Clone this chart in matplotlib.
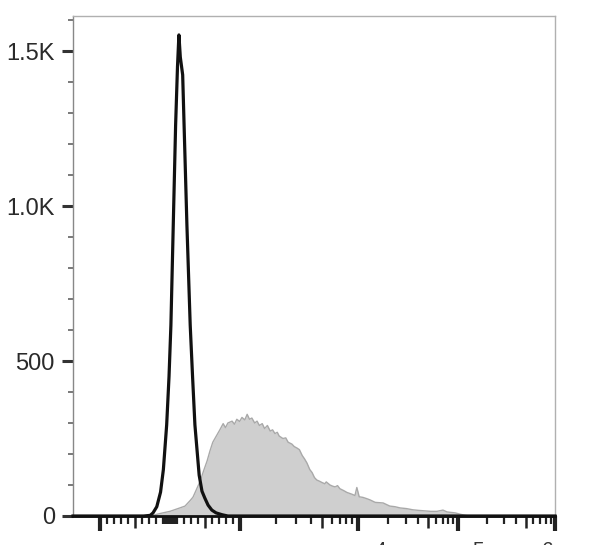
# Flow cytometry overlay histogram (isotype vs stained)

# Import Libraries
import numpy as np
import matplotlib.pyplot as plt
from matplotlib.ticker import FixedLocator, NullFormatter

plt.rcParams['font.family'] = ['Liberation Sans', 'DejaVu Sans']

# Data (x in display channels 0-1024, y in events)
isotype_ch = [0, 150, 164, 170, 178, 186, 192, 199, 204, 208, 213, 218, 222, 225,
              228, 233, 236, 242, 249, 254, 259, 268, 274, 280, 287, 295, 304,
              317, 329, 1024]
isotype_count = [0, 0, 2, 10, 30, 77, 150, 294, 450, 616, 939, 1261, 1450, 1552,
                 1480, 1423, 1261, 939, 616, 450, 294, 132, 80, 58, 35, 19, 10,
                 4, 0, 0]

stained_ch = [164, 185, 206, 227, 238, 249, 255, 263, 270, 278, 285, 291, 297, 306,
              312, 319, 324, 329, 338, 343, 348, 354, 359, 365, 370, 375, 380, 386,
              391, 396, 402, 407, 413, 419, 424, 429, 434, 438, 446, 452, 457, 465,
              470, 476, 481, 487, 492, 497, 503, 508, 513, 518, 524, 529, 535, 538,
              546, 552, 557, 562, 567, 575, 582, 593, 599, 603, 608, 616, 624, 631,
              642, 659, 673, 684, 695, 708, 722, 735, 752, 760, 773, 786, 795, 812,
              822, 833, 843]
stained_count = [0, 8, 15, 26, 32, 50, 61, 88, 112, 148, 178, 210, 238, 262,
                 278, 298, 285, 300, 306, 296, 312, 305, 318, 310, 328, 312, 316, 300,
                 306, 292, 298, 282, 292, 274, 278, 266, 270, 258, 250, 252, 238, 232,
                 224, 219, 214, 195, 184, 171, 150, 140, 124, 116, 112, 108, 104, 110,
                 100, 96, 94, 98, 88, 82, 76, 70, 66, 92, 62, 60, 56, 52,
                 44, 42, 32, 30, 26, 24, 20, 18, 16, 15, 15, 19, 13, 10,
                 6, 2, 0]

ytick_values = [0, 500, 1000, 1500]
ytick_labels = ["0", "500", "1.0K", "1.5K"]

# axis layout: linear around zero (+-1000), log decades above
zero_ch = 206
lin_ch = 149                       # channels per 1000 units in linear part
decade_ch = [355, 605, 818, 1024]  # 10^3, 10^4, 10^5, 10^6

x_major = [zero_ch - lin_ch] + decade_ch
x_medium = [zero_ch - lin_ch * 0.5, zero_ch + lin_ch * 0.5]
x_minor = []
for v in list(range(10, 100, 10)) + [100, 200, 300, 400, 600, 700, 800, 900]:
    x_minor += [zero_ch - lin_ch * v / 1000, zero_ch + lin_ch * v / 1000]
for a, b in zip(decade_ch[:-1], decade_ch[1:]):
    for k in [2, 3, 4, 6, 7, 8, 9]:
        x_minor.append(a + (b - a) * np.log10(k))
    x_medium.append(a + (b - a) * np.log10(5))

# Plot
fig = plt.figure(figsize=(6.08, 5.45), dpi=100)
ax = fig.add_axes([73 / 608, 29 / 545, 482 / 608, 500 / 545])

ax.fill_between(stained_ch, stained_count, color="#cfcfcf", lw=0)
ax.plot(stained_ch, stained_count, color="#a9a9a9", lw=1.0)
ax.plot(isotype_ch, isotype_count, color="#111111", lw=2.3, clip_on=False, zorder=5)

ax.set_xlim(0, 1024)
ax.set_ylim(0, 1613)

for side in ["top", "right"]:
    ax.spines[side].set_color("#b0b0b0")
    ax.spines[side].set_linewidth(1.0)
ax.spines["left"].set_color("#888888")
ax.spines["left"].set_linewidth(1.0)
ax.spines["bottom"].set_color("#111111")
ax.spines["bottom"].set_linewidth(2.0)

# y axis
ax.set_yticks(ytick_values)
ax.set_yticklabels(ytick_labels, fontsize=17, color="#2a2a2a")
ax.yaxis.set_minor_locator(FixedLocator(np.arange(100, 1601, 100)))
ax.tick_params(axis="y", which="major", length=8, width=2.2, color="#333333", pad=5)
ax.tick_params(axis="y", which="minor", length=3.8, width=1.1, color="#555555")

# x axis
ax.xaxis.set_major_locator(FixedLocator(x_major))
ax.xaxis.set_minor_locator(FixedLocator(x_minor))
ax.xaxis.set_major_formatter(NullFormatter())
ax.tick_params(axis="x", which="major", length=11, width=3.0, color="#222222")
ax.tick_params(axis="x", which="minor", length=6, width=1.6, color="#222222")

sec = ax.secondary_xaxis("bottom")
sec.spines["bottom"].set_visible(False)
sec.set_xticks(x_medium)
sec.xaxis.set_major_formatter(NullFormatter())
sec.tick_params(axis="x", length=8.5, width=1.8, color="#222222")

# tick labels cut off at the bottom edge, as in the source image
for xp, s in [(380, "4"), (478, "5"), (548, "6")]:
    fig.text(xp / 608, 4 / 545, s, ha="center", va="top", fontsize=15, color="#333333")

plt.savefig("out.png", dpi=100)
